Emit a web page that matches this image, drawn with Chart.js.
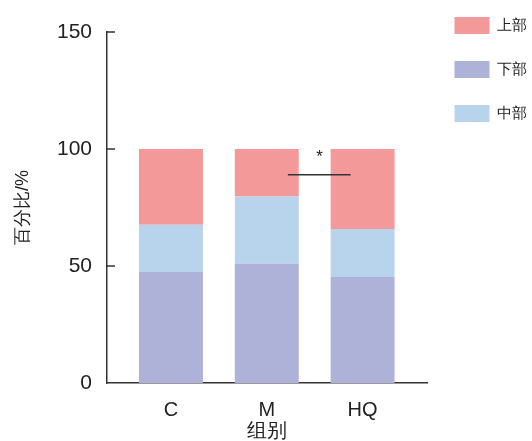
<!DOCTYPE html>
<html>
<head>
<meta charset="utf-8">
<script src="https://cdn.jsdelivr.net/npm/chart.js@4"></script>
<style>
html,body{margin:0;padding:0;background:#fff;}
#wrap{width:532px;height:441px;position:relative;}
</style>
</head>
<body>
<div id="wrap"><canvas id="c" width="532" height="441"></canvas></div>
<script>
const categories = ['C', 'M', 'HQ'];
const lowerValues = [47.4, 51.0, 45.3];   // 下部
const middleValues = [20.2, 28.7, 20.5];  // 中部
const upperValues = [32.4, 20.3, 34.2];   // 上部
const yTicks = [0, 50, 100, 150];
const seriesNames = ['下部', '中部', '上部'];
const legendOrder = ['上部', '下部', '中部'];
const sigLine = {x1: 1.22, x2: 1.875, y: 89, label: '*', labelX: 1.55, labelY: 96.5};

const colors = ['#AEB1D8', '#B8D3EC', '#F4999A'];
const FONT = "'Liberation Sans', Arial, sans-serif";

function toPoints(arr){ return arr.map((v,i)=>({x:i, y:v})); }

const inwardTicks = {
  id: 'inwardTicks',
  afterDraw(chart){
    const ctx = chart.ctx, y = chart.scales.y, area = chart.chartArea;
    ctx.save();
    ctx.strokeStyle = '#333';
    ctx.lineWidth = 1.5;
    yTicks.forEach(v=>{
      if (v === 0) return;
      const py = Math.round(y.getPixelForValue(v));
      ctx.beginPath();
      ctx.moveTo(area.left, py);
      ctx.lineTo(area.left + 8, py);
      ctx.stroke();
    });
    const x = chart.scales.x;
    const ly = y.getPixelForValue(sigLine.y);
    ctx.beginPath();
    ctx.moveTo(x.getPixelForValue(sigLine.x1), ly);
    ctx.lineTo(x.getPixelForValue(sigLine.x2), ly);
    ctx.stroke();
    ctx.fillStyle = '#222';
    ctx.font = '17px ' + FONT;
    ctx.textAlign = 'center';
    ctx.textBaseline = 'middle';
    ctx.fillText(sigLine.label, x.getPixelForValue(sigLine.labelX), y.getPixelForValue(sigLine.labelY));
    ctx.restore();
  }
};

new Chart(document.getElementById('c'), {
  type: 'bar',
  data: {
    datasets: [
      {label: seriesNames[0], data: toPoints(lowerValues), backgroundColor: colors[0]},
      {label: seriesNames[1], data: toPoints(middleValues), backgroundColor: colors[1]},
      {label: seriesNames[2], data: toPoints(upperValues), backgroundColor: colors[2]}
    ]
  },
  options: {
    responsive: false,
    animation: false,
    devicePixelRatio: 1,
    barPercentage: 0.667,
    categoryPercentage: 1,
    layout: {padding: {top: -10, right: -5, bottom: 0, left: 0}},
    plugins: {
      tooltip: {enabled: false},
      legend: {
        position: 'right',
        align: 'start',
        labels: {
          font: {family: FONT, size: 15},
          color: '#222',
          boxWidth: 35,
          boxHeight: 17,
          padding: 27,
          sort: (a, b) => legendOrder.indexOf(a.text) - legendOrder.indexOf(b.text)
        }
      }
    },
    scales: {
      x: {
        type: 'linear',
        stacked: true,
        offset: false,
        min: -0.667,
        max: 2.677,
        afterBuildTicks: s => { s.ticks = categories.map((_, i) => ({value: i})); },
        ticks: {
          callback: v => categories[v],
          font: {family: FONT, size: 20},
          color: '#222',
          padding: 15,
          autoSkip: false,
          maxRotation: 0
        },
        grid: {display: false, drawTicks: false},
        border: {display: true, color: '#333', width: 1.5},
        title: {display: true, text: '组别', font: {family: FONT, size: 20, lineHeight: 1.0}, color: '#222', padding: {top: 0, bottom: 0}},
        afterFit: s => { s.height = 58; }
      },
      xTop: {
        type: 'linear',
        position: 'top',
        display: true,
        ticks: {display: false},
        grid: {display: false, drawTicks: false},
        border: {display: false},
        afterFit: s => { s.height = 42; }
      },
      y: {
        stacked: true,
        min: 0,
        max: 150,
        afterBuildTicks: s => { s.ticks = yTicks.map(v => ({value: v})); },
        ticks: {font: {family: FONT, size: 21}, color: '#222', padding: 15},
        grid: {display: false, drawTicks: false},
        border: {display: true, color: '#333', width: 1.5},
        title: {display: true, text: '百分比/%', font: {family: FONT, size: 18}, color: '#222', padding: {top: 12, bottom: 0}},
        afterFit: s => { s.width = 107; }
      }
    }
  },
  plugins: [inwardTicks]
});
</script>
</body>
</html>
